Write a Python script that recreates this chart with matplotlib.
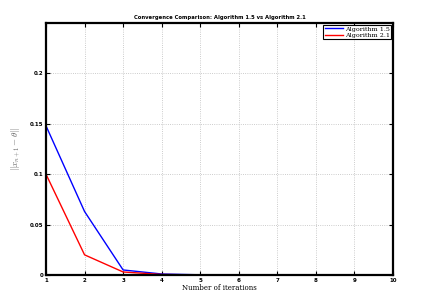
import matplotlib
matplotlib.use('Agg')
import matplotlib.pyplot as plt

# --- Dados ---
iterations = [1, 2, 3, 4, 5, 6, 7, 8, 9, 10]
alg_15 = [0.148, 0.063, 0.005, 0.001, 0.0002, 0.0, 0.0, 0.0, 0.0, 0.0]
alg_21 = [0.100, 0.020, 0.003, 0.0005, 0.0001, 0.0, 0.0, 0.0, 0.0, 0.0]
x_ticks = [1, 2, 3, 4, 5, 6, 7, 8, 9, 10]
y_ticks = [0, 0.05, 0.1, 0.15, 0.2]
y_tick_labels = ['0', '0.05', '0.1', '0.15', '0.2']

plt.rcParams['mathtext.fontset'] = 'cm'

fig = plt.figure(figsize=(4.24, 3.08), dpi=100)
ax = fig.add_axes([46 / 424, 1 - 275 / 308, (393 - 46) / 424, (275 - 23) / 308])

ax.plot(iterations, alg_15, color='blue', lw=1.0, label='Algorithm 1.5')
ax.plot(iterations, alg_21, color='red', lw=1.0, label='Algorithm 2.1')

ax.set_xlim(1, 10)
ax.set_ylim(0, 0.25)
ax.set_xticks(x_ticks)
ax.set_yticks(y_ticks)
ax.set_yticklabels(y_tick_labels)
ax.tick_params(direction='in', labelsize=4, width=0.8, length=3, pad=2,
               top=True, right=True)
for lbl in ax.get_xticklabels() + ax.get_yticklabels():
    lbl.set_fontweight('bold')
for sp in ax.spines.values():
    sp.set_linewidth(1.6)

ax.grid(True, linestyle=':', color='#bbbbbb', linewidth=0.6)

ax.set_title('Convergence Comparison: Algorithm 1.5 vs Algorithm 2.1',
             fontsize=3.8, fontweight='bold', pad=3)
ax.set_xlabel('Number of iterations', family='serif', fontsize=5, labelpad=1)
ax.set_ylabel(r'$\|x_{n+1}-\theta\|$', fontsize=6.5, color='#666666', labelpad=5)

leg = ax.legend(loc='upper right', prop={'family': 'serif', 'size': 4.6},
                fancybox=False, edgecolor='black', framealpha=1,
                handlelength=2.8, borderpad=0.25, labelspacing=0.1,
                borderaxespad=0.25, handletextpad=0.3)
leg.get_frame().set_linewidth(0.8)

fig.savefig('out.png', dpi=100)
